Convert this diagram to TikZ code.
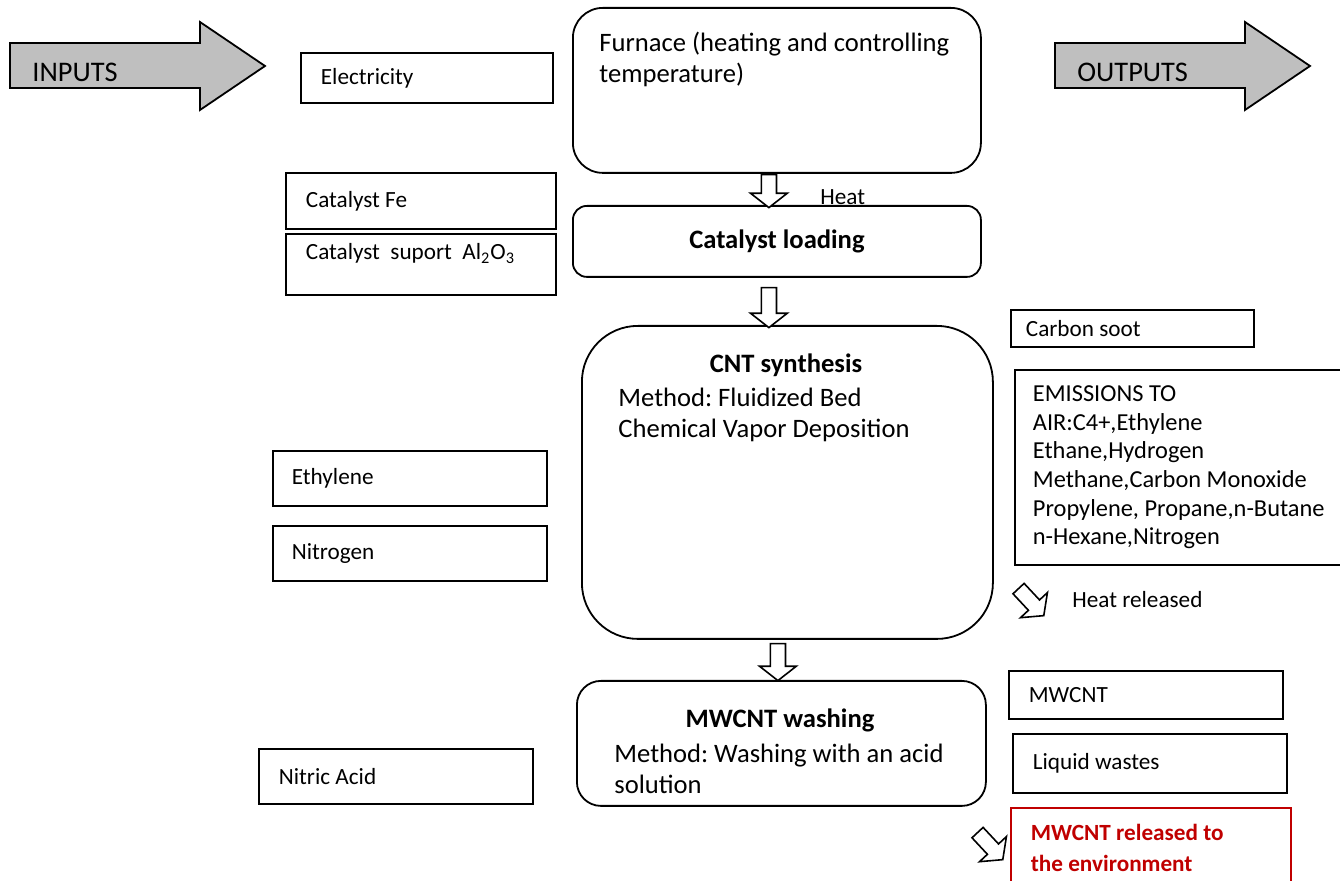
\documentclass[tikz,border=0pt]{standalone}
\usepackage{fontspec}
\setmainfont{Carlito}
\usetikzlibrary{positioning,shapes.arrows,calc}
\definecolor{arrowgrey}{RGB}{191,191,191}
\definecolor{darkred}{RGB}{192,0,0}
\newcommand{\boxfont}{\fontsize{11.6}{15.5}\selectfont}
\newcommand{\airfont}{\fontsize{12.2}{14.3}\selectfont}
\newcommand{\procfont}{\fontsize{13.3}{15.5}\selectfont}
\newcommand{\bigfont}{\fontsize{14.2}{17}\selectfont}
\tikzset{
  inbox/.style={draw, line width=0.9pt, anchor=north west, align=flush left, inner xsep=10pt, font=\boxfont},
  procbox/.style={draw, line width=0.9pt, anchor=north west, rounded corners=#1},
  procbox/.default={7pt},
  ptitle/.style={font=\procfont\bfseries},
  txt/.style={anchor=west, align=flush left, inner sep=0pt},
  bigarrow/.style={draw, line width=0.9pt, fill=arrowgrey},
  hollow/.style={single arrow, draw, line width=0.8pt, fill=white, minimum height=#1, inner xsep=0pt, inner ysep=3.4pt, single arrow head extend=5.4pt, single arrow tip angle=104}
}
\begin{document}
\frenchspacing
\begin{tikzpicture}[x=0.5pt, y=-0.5pt]
  \useasboundingbox (0,0) rectangle (1340,881);
  \clip (0,0) rectangle (1340,881);
  % inputs / outputs
  \draw[bigarrow] (10,43) -- (200,43) -- (200,22) -- (265,66) -- (200,110) -- (200,88) -- (10,88) -- cycle;
  \node[txt, font=\bigfont] (inputs) at (32,72) {INPUTS};
  \draw[bigarrow] (1055,43) -- (1245,43) -- (1245,22) -- (1310,66) -- (1245,110) -- (1245,88) -- (1055,88) -- cycle;
  \node[txt, font=\bigfont] (outputs) at (1077,72) {OUTPUTS};
  % process chain
  \node[procbox=15pt, minimum width=204pt, minimum height=82.5pt] (furnace) at (572,7) {};
  \node[txt, font=\procfont] (furnacetxt) at (599,59.5) {Furnace (heating and controlling\\temperature)};
  \node[procbox, minimum width=204pt, minimum height=35.5pt, font=\procfont\bfseries] (load) at (572,205) {Catalyst loading};
  \node[procbox=28pt, minimum width=205.5pt, minimum height=156.5pt] (cnt) at (581,325) {};
  \node[ptitle] (cnttitle) at (786,365) {CNT synthesis};
  \node[txt, font=\procfont] (cntmethod) at (618,415) {Method: Fluidized Bed\\Chemical Vapor Deposition};
  \node[procbox=12pt, minimum width=204.5pt, minimum height=62.5pt] (wash) at (576,680) {};
  \node[ptitle] (washtitle) at (780,720) {MWCNT washing};
  \node[txt, font=\procfont] (washmethod) at (614,769) {Method: Washing with an acid\\solution};
  \node[hollow=16.5pt, rotate=-90, anchor=tail] (heatdown) at ([xshift=-4pt]furnace.south) {};
  \node[txt, font=\boxfont] (heat) at (820,197) {Heat};
  \node[hollow=20pt, rotate=-90, anchor=tail] (loaddown) at ([xshift=-4pt, yshift=-4.5pt]load.south) {};
  \node[hollow=18.5pt, rotate=-90, anchor=tail] (cntdown) at ([xshift=-4.75pt, yshift=-1.5pt]cnt.south) {};
  % inputs
  \node[inbox, minimum height=25pt, text width=106pt] (elec) at (300,52) {Electricity};
  \node[inbox, minimum height=28pt, text width=115pt] (fe) at (285,172) {Catalyst Fe};
  \node[inbox, minimum height=30.5pt, text width=115pt, text depth=13pt] (support) at (285,233) {Catalyst\ \ suport\ \ Al\textsubscript{2}O\textsubscript{3}};
  \node[inbox, minimum height=27.5pt, text width=118pt, inner xsep=9.5pt] (ethylene) at (272,450) {Ethylene};
  \node[inbox, minimum height=27.5pt, text width=118pt, inner xsep=9.5pt] (nitrogen) at (272,525) {Nitrogen};
  \node[inbox, minimum height=27.5pt, text width=117pt] (acid) at (258,748) {Nitric Acid};
  % outputs
  \node[inbox, minimum height=18.5pt, text width=106.5pt, inner xsep=7.5pt] (soot) at (1010,309) {Carbon soot};
  \node[inbox, minimum height=97.5pt, text width=146pt, inner xsep=9pt, font=\airfont] (air) at (1014,369) {EMISSIONS TO\\AIR:C4+,Ethylene\\Ethane,Hydrogen\\Methane,Carbon Monoxide\\Propylene, Propane,n-Butane\\n-Hexane,Nitrogen};
  \node[hollow=18.5pt, rotate=-47, anchor=tail] (heatout) at (1018,588) {};
  \node[txt, font=\boxfont] (released) at (1072,600) {Heat released};
  \node[inbox, minimum height=24pt, text width=117pt] (mwcnt) at (1008,670) {MWCNT};
  \node[inbox, minimum height=29.5pt, text width=117pt] (liquid) at (1012,733) {Liquid wastes};
  \node[inbox, draw=darkred, text=darkred, minimum height=50pt, text width=120pt, text depth=26pt, font=\boxfont\bfseries] (envir) at (1010,807) {MWCNT released to\\the environment};
  \node[hollow=18.5pt, rotate=-47, anchor=tail] (leak) at (977,832) {};
\end{tikzpicture}
\end{document}
